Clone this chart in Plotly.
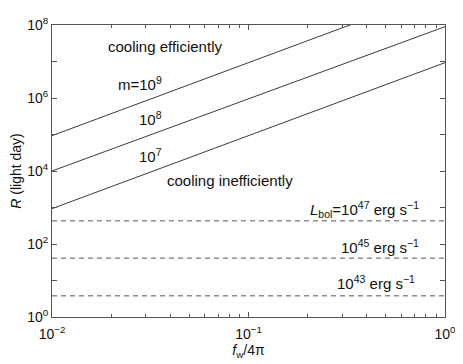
import plotly.graph_objects as go

# f_w / 4pi end points of the straight (log-log) lines
fw = [0.01, 1.0]
# R (light day) for the three black hole masses
r_m9 = [9.3e4, 9.3e8]
r_m8 = [1.0e4, 9.0e7]
r_m7 = [9.3e2, 9.3e6]
# constant R for the three luminosities
r_l47 = [4.3e2, 4.3e2]
r_l45 = [4.1e1, 4.1e1]
r_l43 = [3.8e0, 3.8e0]

x_ticks = [0.01, 0.1, 1.0]
x_labels = ['10<sup>−2</sup>', '10<sup>−1</sup>', '10<sup>0</sup>']
y_ticks = [10 ** k for k in range(0, 9, 2)]
y_labels = ['10<sup>%d</sup>' % k for k in range(0, 9, 2)]
y_minor = [10 ** k for k in range(1, 9, 2)]
x_minor = [m * 10 ** e for e in (-2, -1) for m in range(2, 10)]

line_col = '#3a3a3a'
fig = go.Figure()

for r in [r_m9, r_m8, r_m7]:
    fig.add_trace(go.Scatter(x=fw, y=r, mode='lines', line=dict(color=line_col, width=1), showlegend=False))
for r in [r_l47, r_l45, r_l43]:
    fig.add_trace(go.Scatter(x=fw, y=r, mode='lines', line=dict(color='#555555', width=1, dash='5px,4px'), showlegend=False))

font = dict(family='Liberation Sans, Arial, sans-serif', size=14, color='#111111')
note_font = dict(family='Liberation Sans, Arial, sans-serif', size=15, color='#111111')

# the page body adds an 8px margin, so the figure is 8px smaller and shifted
OFF = 8
W, H = 463 - OFF, 364 - OFF
# plot box in window pixels: left 46, right 449, top 15, bottom 317
L, T = 46 - OFF, 15 - OFF
R = W - (449 - OFF)
B = H - (317 - OFF)
pw, ph = W - L - R, H - T - B

# label text with its centre in window pixels
notes = [
    ('cooling efficiently', 162, 37),
    ('m=10<sup>9</sup>', 136, 76),
    ('10<sup>8</sup>', 147, 112),
    ('10<sup>7</sup>', 147, 150),
    ('cooling inefficiently', 229, 176),
    ('<i>L</i><sub>bol</sub>=10<sup>47</sup> erg s<sup>−1</sup>', 366, 206),
    ('10<sup>45</sup> erg s<sup>−1</sup>', 382, 244),
    ('10<sup>43</sup> erg s<sup>−1</sup>', 378, 281),
]
for txt, px, py in notes:
    fig.add_annotation(text=txt, x=(px - OFF - L) / pw, y=1 - (py - OFF - T) / ph, xref='paper', yref='paper',
                       showarrow=False, font=note_font, xanchor='center', yanchor='middle')

axis_common = dict(showline=True, linecolor='#555555', linewidth=1, mirror='ticks',
                   ticks='inside', ticklen=5, tickcolor='#555555', showgrid=False, zeroline=False,
                   tickfont=font, ticklabeloverflow='allow')

fig.update_layout(
    width=W, height=H,
    margin=dict(l=L, r=R, t=T, b=B),
    plot_bgcolor='white', paper_bgcolor='white',
    font=font,
    xaxis=dict(type='log', range=[-2, 0], tickmode='array', tickvals=x_ticks, ticktext=x_labels,
               ticklabelstandoff=4,
               minor=dict(tickmode='array', tickvals=x_minor, ticks='inside', ticklen=3, tickcolor='#555555'),
               title=dict(text='<i>f</i><sub>w</sub>/4π', font=font, standoff=0), **axis_common),
    yaxis=dict(type='log', range=[0, 8], tickmode='array', tickvals=y_ticks, ticktext=y_labels,
               minor=dict(tickmode='array', tickvals=y_minor, ticks='inside', ticklen=5, tickcolor='#555555'),
               title=dict(text='<i>R</i> (light day)', font=font, standoff=2), **axis_common),
)

fig.write_html('out.html')
